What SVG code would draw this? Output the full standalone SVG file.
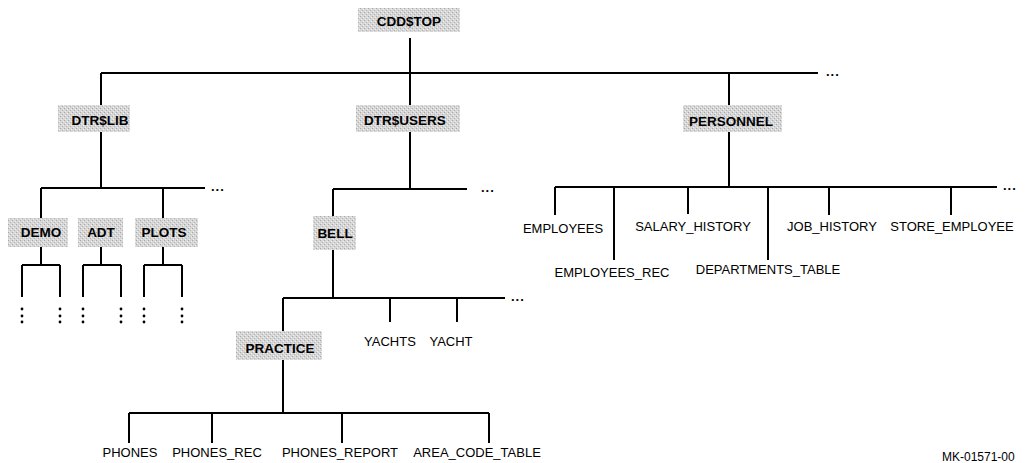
<svg xmlns="http://www.w3.org/2000/svg" width="1031" height="463" viewBox="0 0 1031 463">
<style>
.box{fill:url(#halftone);}
.bl{font-family:"Liberation Sans",Arial,sans-serif;font-size:13.5px;font-weight:bold;text-anchor:middle;fill:#000;}
.lb{font-family:"Liberation Sans",Arial,sans-serif;font-size:13px;text-anchor:middle;fill:#000;}
.dots{font-family:"Liberation Sans",Arial,sans-serif;font-size:13px;font-weight:bold;fill:#000;letter-spacing:1px;}
.ln{stroke:#000;stroke-width:2;fill:none;}
.vd{fill:#000;}
</style>
<defs>
<pattern id="halftone" width="4" height="4" patternUnits="userSpaceOnUse">
<rect width="4" height="4" fill="#d6d6d6"/>
<rect x="0" y="0" width="1" height="1" fill="#a8a8a8"/>
<rect x="2" y="2" width="1" height="1" fill="#b4b4b4"/>
<rect x="1" y="3" width="1" height="1" fill="#eeeeee"/>
<rect x="3" y="1" width="1" height="1" fill="#f0f0f0"/>
</pattern>
</defs>
<rect width="1031" height="463" fill="#fff"/>

<g id="connectors">
<path class="ln" d="M410 38V73 M101 73H818 M101 73V105 M410 73V105 M729 73V105"/>
<path class="ln" d="M101 132V188 M41 188H205 M41 188V218 M163 188V218"/>
<path class="ln" d="M41 247V265 M22 265H60 M22 265V297 M60 265V297"/>
<path class="ln" d="M101 247V265 M83 265H121 M83 265V297 M121 265V297"/>
<path class="ln" d="M163 247V265 M144 265H182 M144 265V297 M182 265V297"/>
<path class="ln" d="M410 132V189 M333 189H467 M333 189V216 M333 250V298 M283 298H505 M283 298V331 M390 298V322 M457 298V322"/>
<path class="ln" d="M283 360V413 M129 413H489 M129 413V443 M212 413V443 M342 413V443 M489 413V443"/>
<path class="ln" d="M729 132V187 M555 187H997 M555 187V215 M614 187V260 M688 187V214 M768 187V260 M829 187V215 M951 187V215"/>
<g class="vd">
<circle cx="22" cy="309" r="1.4"/><circle cx="22" cy="316" r="1.4"/><circle cx="22" cy="322" r="1.4"/>
<circle cx="60" cy="309" r="1.4"/><circle cx="60" cy="316" r="1.4"/><circle cx="60" cy="322" r="1.4"/>
<circle cx="83" cy="309" r="1.4"/><circle cx="83" cy="316" r="1.4"/><circle cx="83" cy="322" r="1.4"/>
<circle cx="121" cy="309" r="1.4"/><circle cx="121" cy="316" r="1.4"/><circle cx="121" cy="322" r="1.4"/>
<circle cx="144" cy="309" r="1.4"/><circle cx="144" cy="316" r="1.4"/><circle cx="144" cy="322" r="1.4"/>
<circle cx="182" cy="309" r="1.4"/><circle cx="182" cy="316" r="1.4"/><circle cx="182" cy="322" r="1.4"/>
</g>
<text class="dots" x="826" y="76">...</text>
<text class="dots" x="211" y="191">...</text>
<text class="dots" x="481" y="192">...</text>
<text class="dots" x="511" y="301">...</text>
<text class="dots" x="1003" y="190">...</text>
</g>

<g id="node-cddstop"><rect class="box" x="358" y="8" width="102" height="24"/><text class="bl" x="409" y="26">CDD$TOP</text></g>
<g id="node-dtrlib"><rect class="box" x="58" y="105" width="72" height="27"/><text class="bl" x="100" y="125">DTR$LIB</text></g>
<g id="node-dtrusers"><rect class="box" x="356" y="105" width="104" height="27"/><text class="bl" x="405" y="125">DTR$USERS</text></g>
<g id="node-personnel"><rect class="box" x="683" y="105" width="99" height="27"/><text class="bl" x="731" y="126">PERSONNEL</text></g>
<g id="node-demo"><rect class="box" x="8" y="218" width="60" height="29"/><text class="bl" x="41" y="237">DEMO</text></g>
<g id="node-adt"><rect class="box" x="78" y="218" width="45" height="29"/><text class="bl" x="101" y="237">ADT</text></g>
<g id="node-plots"><rect class="box" x="135" y="218" width="63" height="29"/><text class="bl" x="164" y="237">PLOTS</text></g>
<g id="node-bell"><rect class="box" x="313" y="216" width="43" height="34"/><text class="bl" x="335" y="238">BELL</text></g>
<g id="node-practice"><rect class="box" x="236" y="331" width="86" height="29"/><text class="bl" x="280" y="353">PRACTICE</text></g>

<g id="node-yachts"><text class="lb" x="390" y="346">YACHTS</text></g>
<g id="node-yacht"><text class="lb" x="451" y="346">YACHT</text></g>
<g id="node-phones"><text class="lb" x="130" y="457">PHONES</text></g>
<g id="node-phones-rec"><text class="lb" x="217" y="457">PHONES_REC</text></g>
<g id="node-phones-report"><text class="lb" x="340" y="457">PHONES_REPORT</text></g>
<g id="node-area-code-table"><text class="lb" x="477" y="457">AREA_CODE_TABLE</text></g>
<g id="node-employees"><text class="lb" x="563" y="233">EMPLOYEES</text></g>
<g id="node-employees-rec"><text class="lb" x="612" y="277">EMPLOYEES_REC</text></g>
<g id="node-salary-history"><text class="lb" x="693" y="231">SALARY_HISTORY</text></g>
<g id="node-departments-table"><text class="lb" x="768" y="274">DEPARTMENTS_TABLE</text></g>
<g id="node-job-history"><text class="lb" x="832" y="231">JOB_HISTORY</text></g>
<g id="node-store-employee"><text class="lb" x="952" y="231">STORE_EMPLOYEE</text></g>

<text class="lb" x="942" y="461" style="text-anchor:start;font-size:12px">MK-01571-00</text>
</svg>
